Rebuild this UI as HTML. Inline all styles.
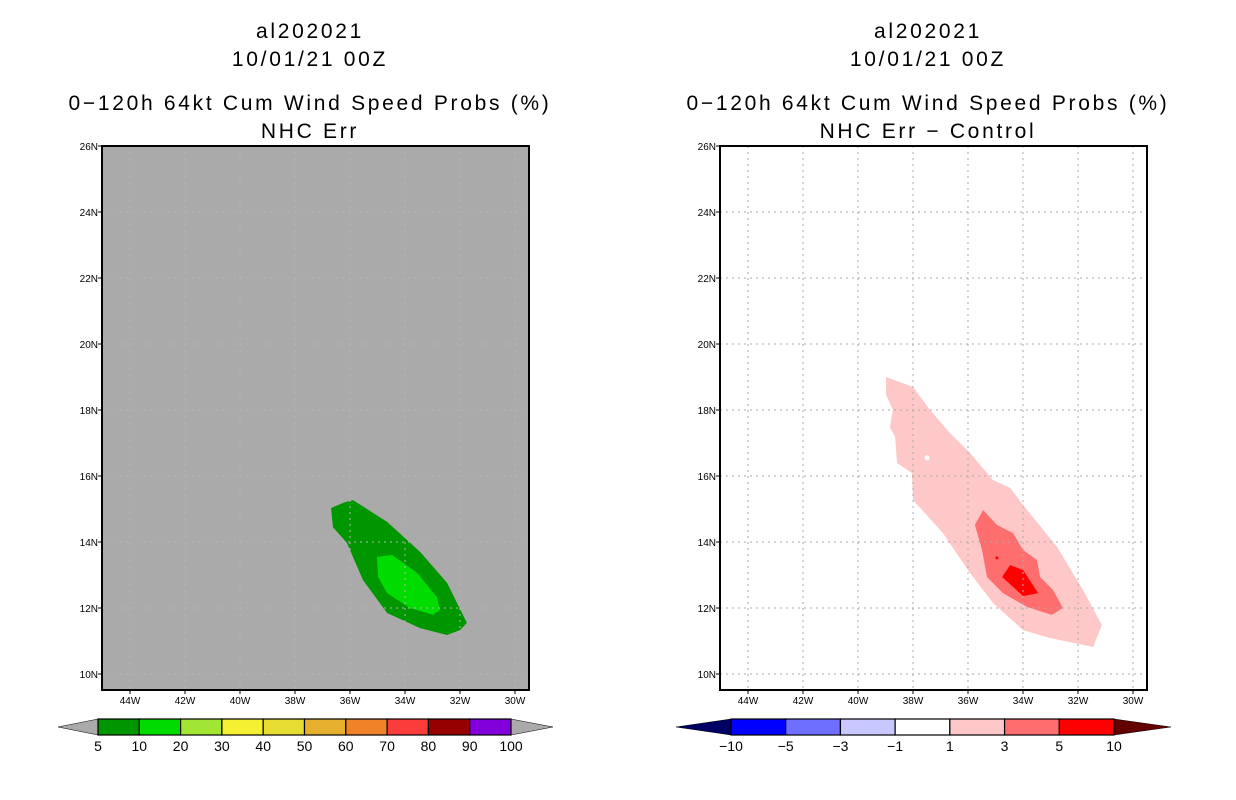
<!DOCTYPE html>
<html><head><meta charset="utf-8"><style>
html,body{margin:0;padding:0;background:#fff;width:1236px;height:800px;overflow:hidden}
svg{display:block}
text{font-family:"Liberation Sans",sans-serif}
</style></head><body>
<svg id="s" width="1236" height="800" xmlns="http://www.w3.org/2000/svg"></svg>
<script>
// ---- data ----
const latTicks = [10,12,14,16,18,20,22,24,26];
const lonTicks = [-44,-42,-40,-38,-36,-34,-32,-30];
const probLevels = ["5","10","20","30","40","50","60","70","80","90","100"];
const probColors = ["#009600","#00dc00","#a0e632","#f5f032","#e6dc32","#e6af2d","#f08228","#fa3c3c","#960000","#8200dc"];
const diffLevels = ["\u221210","\u22125","\u22123","\u22121","1","3","5","10"];
const diffColors = ["#0000ff","#6e6eff","#c8c8ff","#ffffff","#ffc8c8","#ff6e6e","#ff0000"];
const outerLon = [-36.69,-36.18,-35.89,-34.65,-33.45,-32.47,-31.75,-32.00,-32.47,-33.45,-34.65,-35.53,-36.11,-36.62];
const outerLat = [15.03,15.21,15.27,14.61,13.70,12.76,11.55,11.33,11.18,11.39,11.85,12.85,13.97,14.45];
const innerLon = [-35.02,-34.47,-33.56,-32.84,-32.73,-32.98,-33.82,-34.65,-34.98];
const innerLat = [13.55,13.61,13.06,12.33,11.94,11.79,12.0,12.45,12.94];
const pinkLon = [-38.98,-38.0,-37.38,-36.65,-35.93,-35.09,-34.47,-33.85,-32.76,-31.82,-31.13,-31.45,-33.02,-34.0,-35.09,-35.93,-36.91,-38.0,-38.04,-38.58,-38.65,-38.84,-38.73,-38.98];
const pinkLat = [19.0,18.70,18.0,17.30,16.70,15.88,15.64,14.97,13.85,12.55,11.48,10.82,11.09,11.33,12.15,13.06,14.27,15.27,16.09,16.39,17.18,17.48,18.0,18.45];
const medLon = [-35.45,-34.95,-34.36,-34.0,-33.49,-33.38,-32.91,-32.55,-32.95,-33.85,-34.73,-35.31,-35.49,-35.75];
const medLat = [14.97,14.52,14.27,13.76,13.45,12.94,12.55,12.0,11.79,12.03,12.45,12.94,13.76,14.52];
const redLon = [-34.47,-34.0,-33.45,-34.0,-34.36,-34.76];
const redLat = [13.30,13.15,12.45,12.36,12.64,12.94];

const NS="http://www.w3.org/2000/svg", svg=document.getElementById('s');
function el(t,a,p){const e=document.createElementNS(NS,t);for(const k in a)e.setAttribute(k,a[k]);(p||svg).appendChild(e);return e;}
function txt(x,y,s,size,anchor,p){const e=el('text',{x:x,y:y,'font-size':size,'text-anchor':anchor||'middle',fill:'#000'},p);e.textContent=s;return e;}

function panel(ox,name){
  const g=el('g',{});
  
  
  const L=ox, R=ox+427, T=146, B=690;
  const xs=lon=>ox+28+(lon+44)*27.5, ys=lat=>T+(26-lat)*33;
  return {g,L,R,T,B,xs,ys};
}
function poly(P,lons,lats,fill,name){
  const pts=lons.map((v,i)=>P.xs(v)+','+P.ys(lats[i])).join(' ');
  const e=el('polygon',{points:pts,fill:fill},P.g);
  
  
}
function axes(P,gridCol){
  lonTicks.forEach(v=>{const x=P.xs(v);
    if(v>-45&&v<-29.5) el('line',{x1:x,y1:P.T,x2:x,y2:P.B,stroke:gridCol,'stroke-dasharray':'2,4'},P.g);
    el('line',{x1:x,y1:P.B,x2:x,y2:P.B+4,stroke:'#000'},P.g);
    const t=txt(x,P.B+14,(-v)+'W',10,'middle',P.g);
    
    
  });
  latTicks.forEach(v=>{const y=P.ys(v);
    el('line',{x1:P.L,y1:y,x2:P.R,y2:y,stroke:gridCol,'stroke-dasharray':'2,4'},P.g);
    el('line',{x1:P.L-4,y1:y,x2:P.L,y2:y,stroke:'#000'},P.g);
    const t=txt(P.L-4,y+4,v+'N',10,'end',P.g);
    
    
  });
  el('rect',{x:P.L,y:P.T,width:P.R-P.L,height:P.B-P.T,fill:'none',stroke:'#000','stroke-width':2},P.g);
}
function titles(cx,l4){
  const a=['al202021','10/01/21 00Z','0\u2212120h 64kt Cum Wind Speed Probs (%)',l4];
  const ys=[38,66,110,138];
  a.forEach((s,i)=>{const t=txt(cx,ys[i],s,21);
    t.setAttribute('letter-spacing','2.7');
    
    });
}
function cbar(x0,x1,cols,labels,lt,rt,lc,rc,name){
  const g=el('g',{});
  
  
  const y0=719,y1=735,ym=727,w=(x1-x0)/cols.length;
  el('polygon',{points:`${lt},${ym} ${x0},${y0} ${x0},${y1}`,fill:lc,stroke:'#000','stroke-width':0.5},g);
  el('polygon',{points:`${rt},${ym} ${x1},${y0} ${x1},${y1}`,fill:rc,stroke:'#000','stroke-width':0.5},g);
  cols.forEach((c,i)=>{el('rect',{x:x0+i*w,y:y0,width:w,height:y1-y0,fill:c,stroke:'#000','stroke-width':1.2},g);});
  labels.forEach((s,i)=>{const t=txt(x0+i*w,751,s,14,'middle',g);
    
    });
}
// left panel
const A=panel(102,'left-map-panel');
el('rect',{x:A.L,y:A.T,width:427,height:544,fill:'#aaaaaa'},A.g);
poly(A,outerLon,outerLat,'#009600','prob-5-10-contour');
poly(A,innerLon,innerLat,'#00dc00','prob-10-20-contour');
axes(A,'#b4b4b4');
titles(310,'NHC Err');
cbar(98,511,probColors,probLevels,58,553,'#aaaaaa','#aaaaaa','prob-colorbar');
// right panel
const B=panel(720,'right-map-panel');
el('rect',{x:B.L,y:B.T,width:427,height:544,fill:'#ffffff'},B.g);
poly(B,pinkLon,pinkLat,'#ffc8c8','diff-1-3-contour');
el('circle',{cx:B.xs(-37.49),cy:B.ys(16.55),r:2.5,fill:'#fff'},B.g);
poly(B,medLon,medLat,'#ff6e6e','diff-3-5-contour');
poly(B,redLon,redLat,'#ff0000','diff-5-10-contour');
el('circle',{cx:B.xs(-34.95),cy:B.ys(13.52),r:1.5,fill:'#f00'},B.g);
axes(B,'#aaaaaa');
titles(928,'NHC Err \u2212 Control');
cbar(731,1114,diffColors,diffLevels,676,1171,'#000064','#640000','diff-colorbar');
</script>
</body></html>
